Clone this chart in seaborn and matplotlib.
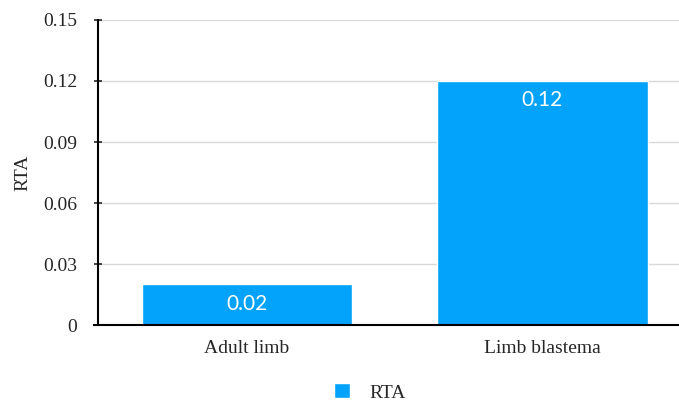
import matplotlib
matplotlib.use("Agg")
import matplotlib.pyplot as plt
import seaborn as sns
import pandas as pd

# data
categories = ["Adult limb", "Limb blastema"]
rta_values = [0.02, 0.12]
series_name = "RTA"
y_ticks = [0, 0.03, 0.06, 0.09, 0.12, 0.15]
y_tick_labels = ["0", "0.03", "0.06", "0.09", "0.12", "0.15"]

df = pd.DataFrame({"category": categories, "value": rta_values, "series": series_name})

sns.set_style("white")
plt.rcParams["font.family"] = ["Liberation Serif", "DejaVu Serif"]

fig = plt.figure(figsize=(6.79, 4.03), dpi=100)
ax = fig.add_axes([0.1443, 0.1935, 0.8557, 0.7569])

sns.barplot(data=df, x="category", y="value", hue="series", palette=["#03a2fb"],
            width=0.715, ax=ax, saturation=1, legend=True)

for patch, v in zip(ax.patches, rta_values):
    x = patch.get_x() + patch.get_width() / 2
    ax.annotate(f"{v:.2f}", (x, v), xytext=(0, -14), textcoords="offset points",
                ha="center", va="center", color="white", fontsize=15,
                family=["Lato", "DejaVu Sans"])

ax.set_xlim(-0.505, 1.464)
ax.set_ylim(0, 0.15)
ax.set_yticks(y_ticks)
ax.set_yticklabels(y_tick_labels)
ax.yaxis.grid(True, color="#d9d9d9", linewidth=1)
ax.set_axisbelow(True)
ax.tick_params(axis="y", direction="inout", length=6, width=1.2, labelsize=14, pad=12, left=True)
ax.tick_params(axis="x", length=0, labelsize=14, pad=11)
ax.set_xlabel("")
ax.set_ylabel("RTA", fontsize=14, labelpad=8)
for s in ["top", "right"]:
    ax.spines[s].set_visible(False)
for s in ["left", "bottom"]:
    ax.spines[s].set_color("black")
    ax.spines[s].set_linewidth(1.5)
ax.spines["bottom"].set_bounds(-0.52, 1.464)

ax.legend_.remove()
handles, labels = ax.get_legend_handles_labels()
fig.legend(handles, labels, loc="lower center", bbox_to_anchor=(0.545, -0.04), frameon=False,
           fontsize=14, handlelength=0.8, handleheight=0.8, handletextpad=1.0)

fig.savefig("out.png", dpi=100)
